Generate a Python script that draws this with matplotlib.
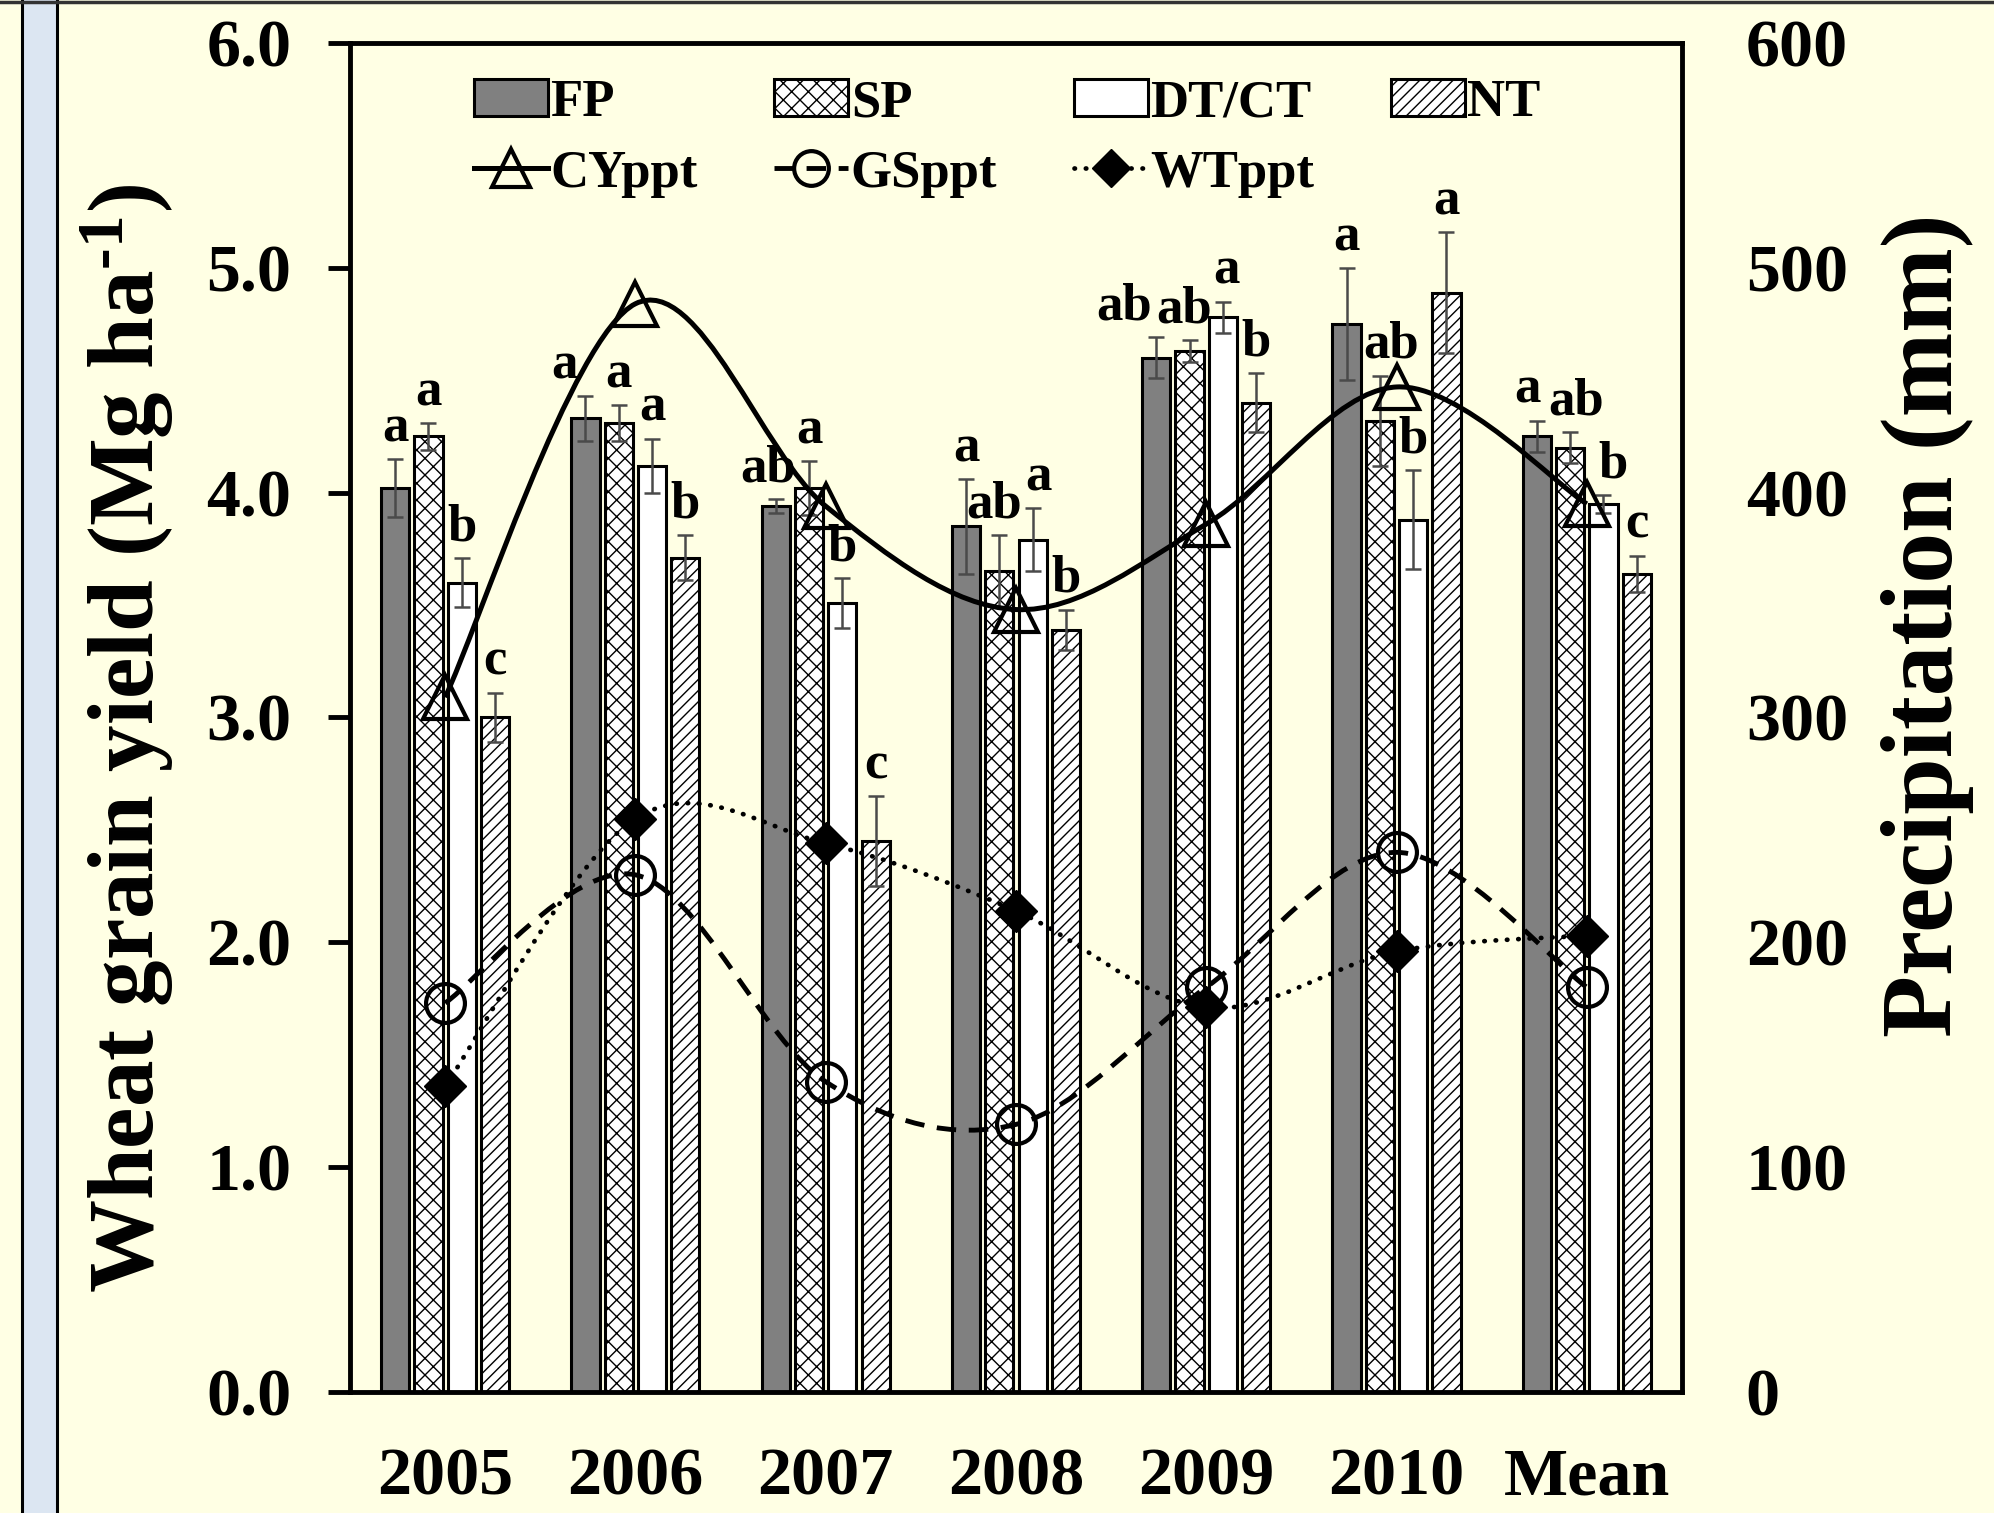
import numpy as np
import matplotlib
matplotlib.use("Agg")
import matplotlib.pyplot as plt
from matplotlib.path import Path
from matplotlib.patches import PathPatch, Rectangle
from matplotlib.lines import Line2D

plt.rcParams['font.family'] = ['Liberation Serif', 'DejaVu Serif']
plt.rcParams['font.weight'] = 'bold'
plt.rcParams['mathtext.fontset'] = 'custom'
plt.rcParams['mathtext.rm'] = 'Liberation Serif:bold'
plt.rcParams['mathtext.default'] = 'rm'
plt.rcParams['hatch.linewidth'] = 1.0

# Data
years = ['2005', '2006', '2007', '2008', '2009', '2010', 'Mean']
fp = [4.02, 4.33, 3.94, 3.85, 4.60, 4.75, 4.25]
sp = [4.25, 4.31, 4.02, 3.65, 4.63, 4.32, 4.20]
dt = [3.60, 4.12, 3.51, 3.79, 4.78, 3.88, 3.95]
nt = [3.00, 3.71, 2.45, 3.39, 4.40, 4.89, 3.64]
fp_err = [0.13, 0.10, 0.03, 0.21, 0.09, 0.25, 0.07]
sp_err = [0.06, 0.08, 0.12, 0.16, 0.05, 0.20, 0.07]
dt_err = [0.11, 0.12, 0.11, 0.14, 0.07, 0.22, 0.04]
nt_err = [0.11, 0.10, 0.20, 0.09, 0.13, 0.27, 0.08]
fp_let = ['a', 'a', 'ab', 'a', 'ab', 'a', 'a']
sp_let = ['a', 'a', 'a', 'ab', 'ab', 'ab', 'ab']
dt_let = ['b', 'a', 'b', 'a', 'a', 'b', 'b']
nt_let = ['c', 'b', 'c', 'b', 'b', 'a', 'c']

cy_ppt = [309, 484, 394, 348, 386, 447, 395]
gs_ppt = [173, 230, 138, 119, 180, 240, 180]
wt_ppt = [136, 255, 244, 214, 171, 196, 203]

# small horizontal nudges of the letters (category units), as placed in the original
fp_dx = [0, -0.11, -0.04, 0, -0.17, 0, -0.05]
sp_dx = [0, 0, 0, -0.03, -0.03, 0.06, 0.03]
dt_dx = [0, 0, 0, 0.03, 0.02, 0, 0.05]
nt_dx = [0, 0, 0, 0, 0, 0, 0]

BG = '#FFFFE4'


def smooth_path(xs, ys):
    # Catmull-Rom style bezier through the points (like Excel smoothed lines)
    pts = np.column_stack([xs, ys]).astype(float)
    n = len(pts)
    verts = [pts[0]]
    codes = [Path.MOVETO]
    for i in range(n - 1):
        p0 = pts[i - 1] if i > 0 else pts[i]
        p1 = pts[i]
        p2 = pts[i + 1]
        p3 = pts[i + 2] if i + 2 < n else pts[i + 1]
        verts += [p1 + (p2 - p0) / 6, p2 - (p3 - p1) / 6, p2]
        codes += [Path.CURVE4] * 3
    return Path(verts, codes)


fig = plt.figure(figsize=(19.94, 15.13), dpi=100, facecolor=BG)

# left panel strip and top border
fig.add_artist(Rectangle((22 / 1994, -0.01), 35 / 1994, 1.02, transform=fig.transFigure,
                         facecolor='#DCE6F2', edgecolor='black', linewidth=2.2))
fig.add_artist(Line2D([0, 1], [0.999, 0.999], transform=fig.transFigure,
                      color='#333333', linewidth=2.5))

ax = fig.add_axes([0.1755, 0.0800, 0.668, 0.8916])
ax.set_facecolor(BG)

x = np.arange(len(years))
step = 0.175
width = 0.148
series = [
    (fp, fp_err, fp_let, fp_dx, '#808080', None, 'FP'),
    (sp, sp_err, sp_let, sp_dx, 'white', 'xx', 'SP'),
    (dt, dt_err, dt_let, dt_dx, 'white', None, 'DT/CT'),
    (nt, nt_err, nt_let, nt_dx, 'white', '///', 'NT'),
]
bar_handles = []
for i, (vals, errs, lets, dxs, col, hatch, name) in enumerate(series):
    xs = x + (i - 1.5) * step
    b = ax.bar(xs, vals, width, color=col, hatch=hatch,
               edgecolor='black', linewidth=2.2, label=name, zorder=2)
    bar_handles.append(b)
    ax.errorbar(xs, vals, yerr=errs, fmt='none', ecolor='#4a4a4a',
                elinewidth=1.8, capsize=6, capthick=1.8, zorder=3)
    for xi, v, e, l, dx in zip(xs, vals, errs, lets, dxs):
        ax.text(xi + dx, v + e + 0.03, l, ha='center', va='bottom', fontsize=38,
                fontweight='bold', zorder=4)

ax.set_xlim(-0.5, len(years) - 0.5)
ax.set_ylim(0, 6)
ax.set_yticks(np.arange(0, 6.1, 1))
ax.set_yticklabels(['%.1f' % v for v in np.arange(0, 6.1, 1)])
ax.set_xticks(x)
ax.set_xticklabels(years)
ax.tick_params(axis='y', length=16, width=3.5, direction='out', pad=26, labelsize=49)
ax.tick_params(axis='x', length=0, pad=40, labelsize=49)
for s in ax.spines.values():
    s.set_linewidth(3.5)

ax2 = ax.twinx()
ax2.set_ylim(0, 600)
ax2.set_yticks(np.arange(0, 601, 100))
ax2.tick_params(axis='y', length=0, pad=46, labelsize=49)
for s in ax2.spines.values():
    s.set_visible(False)

# precipitation lines
gs_dash = (0, (4.0, 2.6))
wt_dot = (0, (0.1, 2.3))
ax2.add_patch(PathPatch(smooth_path(x, cy_ppt), facecolor='none', edgecolor='black',
                        linewidth=3.6, zorder=3))
ax2.plot(x, cy_ppt, linestyle='none', marker='^', markersize=31, markerfacecolor='none',
         markeredgecolor='black', markeredgewidth=3, zorder=4)

ax2.add_patch(PathPatch(smooth_path(x, gs_ppt), facecolor='none', edgecolor='black',
                        linewidth=3.5, linestyle=gs_dash, zorder=3))
ax2.plot(x, gs_ppt, linestyle='none', marker='o', markersize=28, markerfacecolor='none',
         markeredgecolor='black', markeredgewidth=3, zorder=4)

ax2.add_patch(PathPatch(smooth_path(x, wt_ppt), facecolor='none', edgecolor='black',
                        linewidth=3.4, linestyle=wt_dot, capstyle='round', zorder=3))
ax2.plot(x, wt_ppt, linestyle='none', marker='D', markersize=21, markerfacecolor='black',
         markeredgecolor='black', zorder=4)

cy_h = Line2D([], [], color='black', linewidth=3.6, marker='^', markersize=27,
              markerfacecolor='none', markeredgewidth=3)
gs_h = Line2D([], [], color='black', linewidth=3.5, linestyle=gs_dash, marker='o',
              markersize=25, markerfacecolor='none', markeredgewidth=3)
wt_h = Line2D([], [], color='black', linewidth=3.4, linestyle=wt_dot,
              dash_capstyle='round', marker='D', markersize=19, markerfacecolor='black')
blank = Line2D([], [], linestyle='none')

handles = [bar_handles[0], cy_h, bar_handles[1], gs_h, bar_handles[2], wt_h, bar_handles[3], blank]
labels = ['FP', 'CYppt', 'SP', 'GSppt', 'DT/CT', 'WTppt', 'NT', '']
ax2.legend(handles, labels, ncol=4, loc='upper left', bbox_to_anchor=(0.093, 0.973),
           frameon=False, fontsize=38, handlelength=1.4, handletextpad=0.05,
           columnspacing=1.45, labelspacing=0.42, borderpad=0, borderaxespad=0)

fig.text(127 / 1994, 0.512, r'Wheat grain yield (Mg ha$^{\text{-1}}$)', rotation=90,
         ha='center', va='center', fontsize=67, fontweight='bold')
fig.text(1927 / 1994, 0.587, 'Precipitation (mm)', rotation=90,
         ha='center', va='center', fontsize=73, fontweight='bold')

fig.savefig('out.png', dpi=100, facecolor=BG)
